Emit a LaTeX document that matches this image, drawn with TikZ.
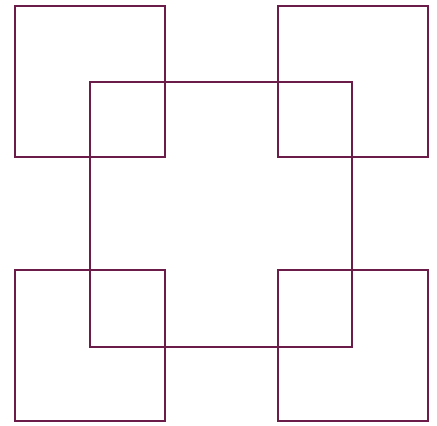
\documentclass[tikz,border=0pt]{standalone}
\usepackage{tikz}
\definecolor{squareline}{RGB}{108,28,72}
\tikzset{sqedge/.style={draw=squareline,line width=2pt}}
\newcommand{\sqbox}[4]{%
  \draw[sqedge] (#1,#2) rectangle (#3,#4);%
}

\begin{document}
\begin{tikzpicture}[x=1pt,y=-1pt]
  \useasboundingbox (0,0) rectangle (437,426);
  \sqbox{15}{6}{165}{157}
  \sqbox{278}{6}{428}{157}
  \sqbox{15}{270}{165}{421}
  \sqbox{278}{270}{428}{421}
  \sqbox{90}{82}{352}{347}
\end{tikzpicture}
\end{document}
